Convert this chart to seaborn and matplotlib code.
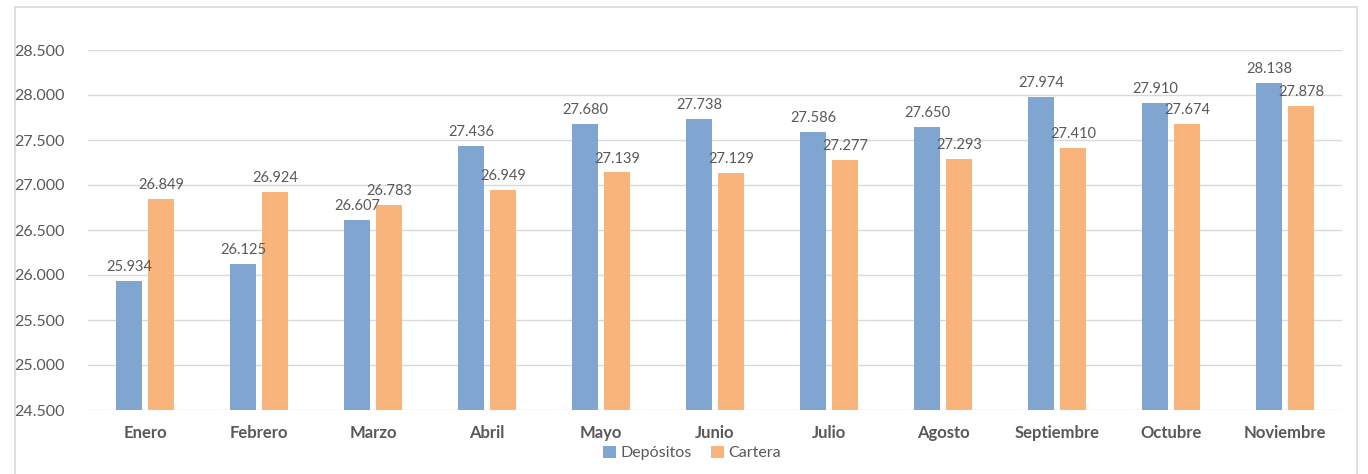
import matplotlib
matplotlib.use("Agg")
import matplotlib.pyplot as plt
import seaborn as sns
import pandas as pd
from matplotlib.patches import Rectangle

months = ["Enero", "Febrero", "Marzo", "Abril", "Mayo", "Junio", "Julio",
          "Agosto", "Septiembre", "Octubre", "Noviembre"]
depositos = [25934, 26125, 26607, 27436, 27680, 27738, 27586, 27650, 27974, 27910, 28138]
cartera = [26849, 26924, 26783, 26949, 27139, 27129, 27277, 27293, 27410, 27674, 27878]
series = ["Depósitos", "Cartera"]
yticks = [24500, 25000, 25500, 26000, 26500, 27000, 27500, 28000, 28500]

df = pd.DataFrame({
    "Mes": months * 2,
    "Serie": [series[0]] * len(months) + [series[1]] * len(months),
    "Valor": depositos + cartera,
})

sns.set_theme(style="white")
plt.rcParams["font.family"] = ["Lato", "DejaVu Sans"]

def fmt(v):
    return f"{int(round(v)):,}".replace(",", ".")

fig = plt.figure(figsize=(13.68, 4.74), dpi=100)
ax = fig.add_axes([88 / 1368, 1 - 410 / 474, (1342 - 88) / 1368, (410 - 50) / 474])

colors = ["#7FA5D0", "#F9B47C"]
sns.barplot(data=df, x="Mes", y="Valor", hue="Serie", hue_order=series,
            palette=colors, width=0.56, gap=0.18, ax=ax, saturation=1,
            errorbar=None, linewidth=0)

ax.set_ylim(24500, 28500)
ax.set_xlim(-0.5, len(months) - 0.5)
ax.set_yticks(yticks)
ax.set_yticklabels([fmt(v) for v in yticks], color="#595959", fontsize=11.5)
ax.tick_params(axis="y", length=0, pad=17)
ax.tick_params(axis="x", length=0, pad=11)
for lbl in ax.get_xticklabels():
    lbl.set_fontweight("bold")
    lbl.set_color("#595959")
    lbl.set_fontsize(12)
ax.set_xlabel("")
ax.set_ylabel("")
ax.yaxis.grid(True, color="#D9D9D9", linewidth=1)
ax.set_axisbelow(True)
for s in ax.spines.values():
    s.set_visible(False)

for cont in ax.containers:
    ax.bar_label(cont, labels=[fmt(b.get_height()) for b in cont],
                 padding=5, color="#595959", fontsize=10.5)

handles, labels = ax.get_legend_handles_labels()
ax.legend(handles, labels, loc="center", bbox_to_anchor=(692 / 1368, 1 - 453 / 474),
          bbox_transform=fig.transFigure, ncol=2, frameon=False, fontsize=11.5,
          handlelength=0.8, handleheight=0.8, handletextpad=0.3, columnspacing=1.2,
          labelcolor="#595959")

border = Rectangle((15 / 1368, -0.01), (1357 - 15) / 1368, 1.01 - 7 / 474,
                   transform=fig.transFigure, fill=False, edgecolor="#D9D9D9",
                   linewidth=1.2)
fig.add_artist(border)

fig.savefig("out.png", dpi=100)
